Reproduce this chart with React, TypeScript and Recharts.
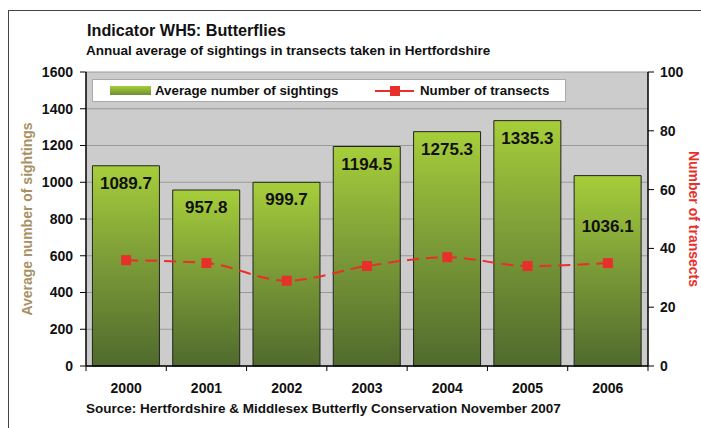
import { ComposedChart, Bar, Line, XAxis, YAxis, CartesianGrid, LabelList } from "recharts";

const years = ["2000", "2001", "2002", "2003", "2004", "2005", "2006"];
const sightings = [1089.7, 957.8, 999.7, 1194.5, 1275.3, 1335.3, 1036.1];
const transects = [36, 35, 29, 34, 37, 34, 35];
const leftTicks = [0, 200, 400, 600, 800, 1000, 1200, 1400, 1600];
const rightTicks = [0, 20, 40, 60, 80, 100];

const data = years.map((year, i) => ({ year, sightings: sightings[i], transects: transects[i] }));

const FONT = "'Liberation Sans', Arial, sans-serif";
const RED = "#E8302A";
const TAN = "#A89064";

const XTick = (props: any) => {
  const { x, y, payload, index } = props;
  const half = payload && payload.offset ? payload.offset : 40;
  return (
    <g>
      <line x1={x - half} x2={x - half} y1={366} y2={371} stroke="#000" />
      {index === years.length - 1 && <line x1={x + half} x2={x + half} y1={366} y2={371} stroke="#000" />}
      <text x={x} y={y} dy={25} textAnchor="middle" fontFamily={FONT} fontWeight="bold" fontSize={14} fill="#111">
        {payload.value}
      </text>
    </g>
  );
};

const BarLabel = (props: any) => {
  const { x, y, width, value, index } = props;
  // the last label sits lower in the original, clear of the line
  const drop = index === years.length - 1 ? 56 : 23;
  return (
    <text x={x + width / 2} y={y + drop} textAnchor="middle" fontFamily={FONT} fontWeight="bold" fontSize={17} fill="#111">
      {value}
    </text>
  );
};

const Square = (props: any) => {
  const { cx, cy } = props;
  if (cx == null || cy == null) return null;
  return <rect x={cx - 5} y={cy - 5} width={10} height={10} fill={RED} />;
};

export default function App() {
  return (
    <div style={{ position: "absolute", left: 0, top: 0, width: 701, height: 428, background: "#fff", fontFamily: FONT, overflow: "hidden" }}>
      <div style={{ position: "absolute", left: 8, top: 10, width: 720, height: 440, borderTop: "1.5px solid #444", borderLeft: "1.5px solid #444" }} />
      <div style={{ position: "absolute", left: 87, top: 21, fontSize: 16.2, fontWeight: "bold", color: "#111" }}>Indicator WH5: Butterflies</div>
      <div style={{ position: "absolute", left: 86, top: 43, fontSize: 13.5, fontWeight: "bold", color: "#111" }}>
        Annual average of sightings in transects taken in Hertfordshire
      </div>
      <div style={{ position: "absolute", left: 86, top: 401, fontSize: 13.5, fontWeight: "bold", color: "#111" }}>
        Source: Hertfordshire &amp; Middlesex Butterfly Conservation November 2007
      </div>
      <ComposedChart
        width={701}
        height={428}
        data={data}
        margin={{ top: 72, right: 0, bottom: 42, left: 0 }}
        barCategoryGap="8%"
        style={{ position: "absolute", left: 0, top: 0 }}
      >
        <defs>
          <linearGradient id="barGrad" x1="0" y1="0" x2="0" y2="1">
            <stop offset="0%" stopColor="#A6CE3A" />
            <stop offset="45%" stopColor="#7E9E38" />
            <stop offset="100%" stopColor="#506A2D" />
          </linearGradient>
        </defs>
        <CartesianGrid yAxisId="left" vertical={false} fill="#CCCCCC" stroke="#999" strokeWidth={1} />
        <XAxis
          dataKey="year"
          height={20}
          tickSize={0}
          tick={<XTick />}
          axisLine={{ stroke: "#000", strokeWidth: 1.5 }}
          interval={0}
        />
        <YAxis
          yAxisId="left"
          width={86}
          domain={[0, 1600]}
          ticks={leftTicks}
          interval={0}
          tickSize={6}
          tickMargin={7}
          axisLine={{ stroke: "#000", strokeWidth: 1.5 }}
          tickLine={{ stroke: "#000" }}
          tick={{ fontFamily: FONT, fontWeight: "bold", fontSize: 14, fill: "#111" }}
          label={{
            value: "Average number of sightings",
            angle: -90,
            position: "insideLeft",
            offset: 27,
            style: { fontFamily: FONT, fontWeight: "bold", fontSize: 14, fill: TAN, textAnchor: "middle" },
          }}
        />
        <YAxis
          yAxisId="right"
          orientation="right"
          width={53}
          domain={[0, 100]}
          ticks={rightTicks}
          interval={0}
          tickSize={6}
          tickMargin={6}
          axisLine={{ stroke: "#000", strokeWidth: 1.5 }}
          tickLine={{ stroke: "#000" }}
          tick={{ fontFamily: FONT, fontWeight: "bold", fontSize: 14, fill: "#111" }}
          label={{
            value: "Number of transects",
            angle: 90,
            position: "insideRight",
            offset: 7,
            style: { fontFamily: FONT, fontWeight: "bold", fontSize: 14, fill: RED, textAnchor: "middle" },
          }}
        />
        <Bar yAxisId="left" dataKey="sightings" fill="url(#barGrad)" stroke="#222" strokeWidth={1} isAnimationActive={false}>
          <LabelList dataKey="sightings" content={<BarLabel />} />
        </Bar>
        <Line
          yAxisId="right"
          type="monotone"
          dataKey="transects"
          stroke={RED}
          strokeWidth={2}
          strokeDasharray="12 7"
          dot={<Square />}
          activeDot={false}
          isAnimationActive={false}
        />
      </ComposedChart>
      <div
        style={{
          position: "absolute",
          left: 92,
          top: 79,
          width: 474,
          height: 23,
          background: "#fff",
          border: "1px solid #aaa",
          boxSizing: "border-box",
          fontSize: 13.3,
          fontWeight: "bold",
          color: "#111",
        }}
      >
        <div style={{ position: "absolute", left: 17, top: 6, width: 41, height: 9, background: "linear-gradient(#A6CE3A, #6E8E33)" }} />
        <div style={{ position: "absolute", left: 62, top: 3 }}>Average number of sightings</div>
        <div style={{ position: "absolute", left: 282, top: 10, width: 39, height: 2, background: RED }} />
        <div style={{ position: "absolute", left: 297, top: 6, width: 10, height: 10, background: RED }} />
        <div style={{ position: "absolute", left: 327, top: 3 }}>Number of transects</div>
      </div>
    </div>
  );
}
